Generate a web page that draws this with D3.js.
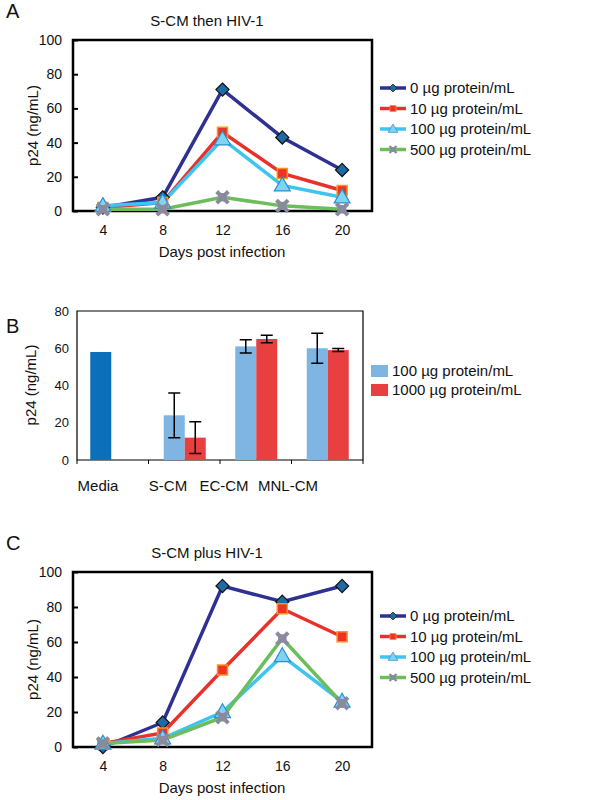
<!DOCTYPE html><html><head><meta charset="utf-8">
<script src="https://d3js.org/d3.v7.min.js"></script>
<style>body{margin:0;background:#fff}text{font-family:"Liberation Sans",Arial,sans-serif;fill:#111}</style></head><body>
<svg id="s" width="591" height="800"></svg>
<script>
const days=[4,8,12,16,20];
const lineLabels=["0 µg protein/mL","10 µg protein/mL","100 µg protein/mL","500 µg protein/mL"];
const A0=[2,8,71,43,24],A10=[2,5,46,22,12],A100=[3,5,42,15,8],A500=[1,1,8,3,1];
const C0=[0,14,92,83,92],C10=[2,8,44,79,63],C100=[2,5,20,52,26],C500=[2,4,17,62,25];
const barCats=["Media","S-CM","EC-CM","MNL-CM"];
const barLabels=["100 µg protein/mL","1000 µg protein/mL"];
const b100=[58,24,61,60],b1000=[null,12,65,59];
const e100=[null,12,3.5,8],e1000=[null,8.5,2,0.8];
const lineTicks=[0,20,40,60,80,100],barTicks=[0,20,40,60,80];

const svg=d3.select("#s");
const cols=["#2e3192","#e8312a","#3fc4ef","#6cbd5c"];
function marker(g,k,x,y){
  if(k==0)g.append("path").attr("d",d3.symbol(d3.symbolDiamond2,110)()).attr("transform",`translate(${x},${y})`).attr("fill","#1f6aa5").attr("stroke","#111").attr("stroke-width",1.2);
  if(k==1)g.append("path").attr("d",d3.symbol(d3.symbolSquare,100)()).attr("transform",`translate(${x},${y})`).attr("fill","#ee3224").attr("stroke","#f7941d").attr("stroke-width",1.5);
  if(k==2)g.append("path").attr("d",d3.symbol(d3.symbolTriangle,110)()).attr("transform",`translate(${x},${y+1})`).attr("fill","#7fd3f5").attr("stroke","#2b8fcf").attr("stroke-width",1.2);
  if(k==3){g.append("path").attr("d",d3.symbol(d3.symbolX,90)()).attr("transform",`translate(${x},${y})`).attr("fill","none").attr("stroke","#8a8a9e").attr("stroke-width",4);
    g.append("path").attr("d",d3.symbol(d3.symbolCross,40)()).attr("transform",`translate(${x},${y})`).attr("fill","#8a8a9e");}
}
function linePanel(letter,title,series,top,bottom,ly){
  const x=d3.scaleLinear().domain([2,22]).range([73,372]);
  const y=d3.scaleLinear().domain([0,100]).range([bottom,top]);
  svg.append("text").attr("x",6).attr("y",top-22).attr("font-size",20).text(letter);
  svg.append("text").attr("x",207).attr("y",top-14).attr("text-anchor","middle").attr("font-size",15).text(title);
  svg.append("g").attr("transform",`translate(73,0)`).call(d3.axisLeft(y).tickValues(lineTicks).tickSize(5).tickPadding(6))
   .call(g=>{g.select(".domain").remove();g.selectAll("text").attr("font-size",14);g.selectAll("line").attr("stroke-width",2).attr("transform","translate(5,0)")});
  svg.append("g").attr("transform",`translate(0,${bottom})`).call(d3.axisBottom(x).tickValues(days).tickSize(0).tickPadding(14))
   .call(g=>{g.select(".domain").remove();g.selectAll("text").attr("font-size",14)});
  svg.append("rect").attr("x",73).attr("y",top).attr("width",299).attr("height",bottom-top).attr("fill","none").attr("stroke","#000").attr("stroke-width",2.5);
  svg.append("text").attr("transform",`translate(38,${(top+bottom)/2}) rotate(-90)`).attr("text-anchor","middle").attr("font-size",15).text("p24 (ng/mL)");
  svg.append("text").attr("x",222).attr("y",bottom+46).attr("text-anchor","middle").attr("font-size",15).text("Days post infection");
  const ln=d3.line().x((d,i)=>x(days[i])).y(d=>y(d));
  series.forEach((s,k)=>svg.append("path").attr("d",ln(s)).attr("fill","none").attr("stroke",cols[k]).attr("stroke-width",3.5));
  series.forEach((s,k)=>{const g=svg.append("g");s.forEach((v,i)=>marker(g,k,x(days[i]),y(v)));});
  lineLabels.forEach((l,k)=>{const yy=ly+k*20.5;
    svg.append("line").attr("x1",380).attr("x2",406).attr("y1",yy).attr("y2",yy).attr("stroke",cols[k]).attr("stroke-width",3.5);
    const g=svg.append("g").attr("transform",`translate(393,${yy}) scale(0.6) translate(-393,${-yy})`);marker(g,k,393,yy);
    svg.append("text").attr("x",410).attr("y",yy+5).attr("font-size",15).text(l);});
}
linePanel("A","S-CM then HIV-1",[A0,A10,A100,A500],40,211,88);
linePanel("C","S-CM plus HIV-1",[C0,C10,C100,C500],572,747,616);

// panel B
const xb=d3.scaleBand().domain(barCats).range([77,363]);
const yb=d3.scaleLinear().domain([0,80]).range([460,311]);
svg.append("text").attr("x",6).attr("y",333).attr("font-size",20).text("B");
svg.append("g").attr("transform","translate(77,0)").call(d3.axisLeft(yb).tickValues(barTicks).tickSize(0).tickPadding(8))
 .call(g=>{g.select(".domain").remove();g.selectAll("text").attr("font-size",13)});
svg.append("path").attr("d","M77,311H363V460H77Z").attr("fill","none").attr("stroke","#000").attr("stroke-width",1.2);
barCats.forEach(c=>svg.append("line").attr("x1",xb(c)).attr("x2",xb(c)).attr("y1",460).attr("y2",464).attr("stroke","#000"));
svg.append("line").attr("x1",363).attr("x2",363).attr("y1",460).attr("y2",464).attr("stroke","#000");
svg.append("text").attr("transform",`translate(36,385) rotate(-90)`).attr("text-anchor","middle").attr("font-size",15).text("p24 (ng/mL)");
const bw=21,off=[-20.5,0.5];
function bars(vals,errs,j,color){
  vals.forEach((v,i)=>{if(v==null)return;const cx=xb(barCats[i])+xb.bandwidth()/2+off[j]-(i==0?2:0);
    svg.append("rect").attr("x",cx).attr("width",bw).attr("y",yb(v)).attr("height",yb(0)-yb(v)).attr("fill",i==0?"#0b70b9":color);
    if(errs[i]!=null){const m=cx+bw/2;svg.append("path").attr("d",`M${m},${yb(v-errs[i])}V${yb(v+errs[i])}M${m-6},${yb(v-errs[i])}H${m+6}M${m-6},${yb(v+errs[i])}H${m+6}`).attr("stroke","#000").attr("stroke-width",1.5).attr("fill","none");}});
}
bars(b100,e100,0,"#7fb5e3");bars(b1000,e1000,1,"#e84040");
const labX=[98,168,224,288];
barCats.forEach((c,i)=>svg.append("text").attr("x",labX[i]).attr("y",491).attr("text-anchor","middle").attr("font-size",15).text(c));
[["#7fb5e3",0],["#e84040",1]].forEach(([c,k])=>{const yy=371+k*19;
  svg.append("rect").attr("x",371).attr("y",yy-6).attr("width",17).attr("height",12).attr("fill",c);
  svg.append("text").attr("x",392).attr("y",yy+5).attr("font-size",15).text(barLabels[k]);});
</script></body></html>
